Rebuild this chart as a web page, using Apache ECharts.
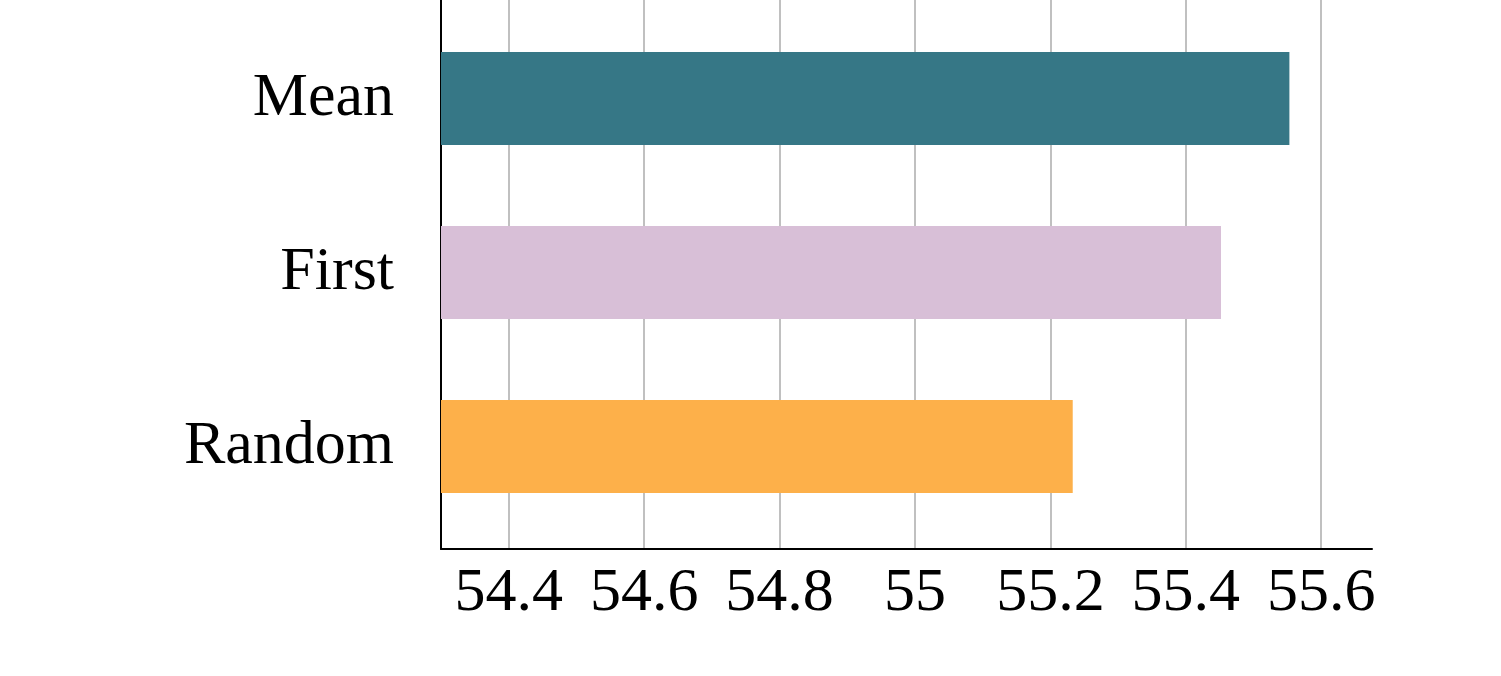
<!DOCTYPE html>
<html>
<head>
<meta charset="utf-8">
<script src="https://cdn.jsdelivr.net/npm/echarts@6/dist/echarts.min.js"></script>
<style>
  html, body { margin: 0; padding: 0; background: #fff; }
  #main { width: 1501px; height: 676px; }
</style>
</head>
<body>
<div id="main"></div>
<script>
// data
var categories = ['Random', 'First', 'Mean'];
var values = [55.233, 55.452, 55.553];
var barColors = ['#fdb04a', '#d8bfd7', '#367786'];
var tickValues = [54.4, 54.6, 54.8, 55, 55.2, 55.4, 55.6];
var xMin = 54.3;
var xMax = 55.675;

var myChart = echarts.init(document.getElementById('main'));
var font = '"Liberation Serif", "DejaVu Serif", serif';

var option = {
  backgroundColor: '#fff',
  animation: false,
  grid: [
    // frame: axis lines, grid lines, tick labels
    { left: 441, right: 129, top: -10, bottom: 127 },
    // bars
    { left: 441, right: 129, top: 11.5, bottom: 142.5 }
  ],
  xAxis: [
    {
      gridIndex: 0,
      type: 'value',
      min: xMin,
      max: xMax,
      axisLine: { show: true, lineStyle: { color: '#000', width: 2 } },
      axisTick: { show: false, customValues: tickValues },
      splitLine: {
        show: true,
        lineStyle: { color: '#c0c0c0', width: 2 }
      },
      axisLabel: {
        customValues: tickValues,
        margin: 14,
        fontSize: 62,
        fontFamily: font,
        color: '#000',
        formatter: function (v) { return String(Math.round(v * 10) / 10); }
      }
    },
    {
      gridIndex: 1,
      type: 'value',
      min: xMin,
      max: xMax,
      show: false
    }
  ],
  yAxis: [
    {
      gridIndex: 0,
      type: 'value',
      axisLine: { show: true, lineStyle: { color: '#000', width: 2 } },
      axisTick: { show: false },
      axisLabel: { show: false },
      splitLine: { show: false }
    },
    {
      gridIndex: 1,
      type: 'category',
      data: categories,
      axisLine: { show: false },
      axisTick: { show: false },
      axisLabel: {
        margin: 47,
        fontSize: 62,
        fontFamily: font,
        color: '#000'
      }
    }
  ],
  series: [
    {
      type: 'bar',
      xAxisIndex: 1,
      yAxisIndex: 1,
      barWidth: 93,
      data: values.map(function (v, i) {
        return { value: v, itemStyle: { color: barColors[i] } };
      })
    }
  ]
};

if (option && typeof option === 'object') {
  myChart.setOption(option);
}
window.addEventListener('resize', function () {
  myChart.resize();
});
</script>
</body>
</html>
